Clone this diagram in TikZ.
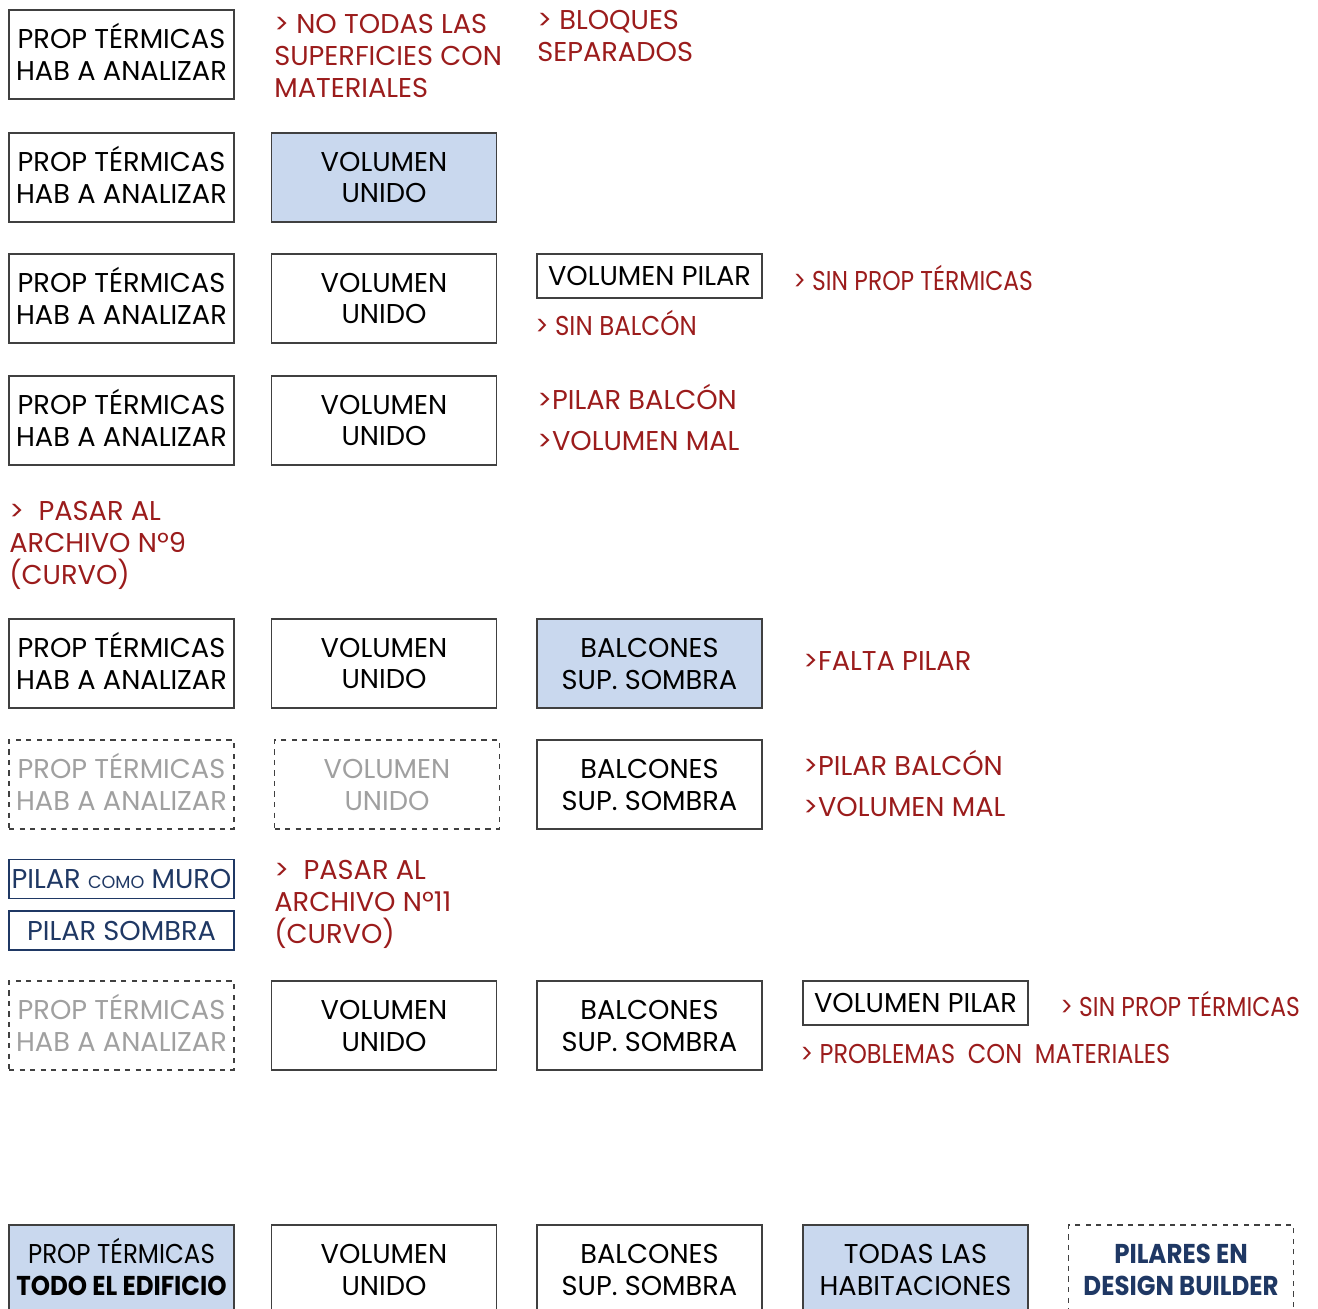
\documentclass[tikz,border=0pt]{standalone}
\usepackage{fontspec}
\setmainfont{Poppins}
\usetikzlibrary{positioning}
\definecolor{notered}{HTML}{9B1C1C}
\definecolor{boxline}{HTML}{404040}
\definecolor{boxfill}{HTML}{C9D8EE}
\definecolor{navy}{HTML}{1F3864}
\definecolor{faded}{HTML}{A0A0A0}
\newcommand{\narrow}[2][0.9]{\scalebox{#1}[1]{#2}}
\newcommand{\propt}{PROP T\smash{É}RMICAS}
\tikzset{
	box/.style={draw=boxline, line width=0.9pt, minimum width=4.5cm, minimum height=1.78cm, inner sep=0pt, align=center},
	bluebox/.style={box, fill=boxfill},
	ghostbox/.style={box, dashed, text=faded},
	thinbox/.style={box, minimum height=0.88cm},
	pilarbox/.style={box, draw=navy, text=navy, minimum height=0.78cm},
	note/.style={text=notered, anchor=west, inner sep=0pt, align=left}
}
\begin{document}
\begin{tikzpicture}[x=0.02cm, y=-0.02cm, font=\fontsize{15.5}{18.2}\selectfont]
	\useasboundingbox (0,0) rectangle (1318,1308);
	\clip (0,0) rectangle (1318,1308);
	\node[box] (propa) at (121.5,54.5) {\propt\\HAB A ANALIZAR};
	\node[note] (notaa) at (274,56) {> NO TODAS LAS\\SUPERFICIES CON\\MATERIALES};
	\node[note] (notab) at (537,36) {> BLOQUES\\SEPARADOS};
	\node[box] (propb) at (121.5,177.5) {\propt\\HAB A ANALIZAR};
	\node[bluebox] (volb) at (384,177.5) {VOLUMEN\\UNIDO};
	\node[box] (propc) at (121.5,298.5) {\propt\\HAB A ANALIZAR};
	\node[box] (volc) at (384,298.5) {VOLUMEN\\UNIDO};
	\node[thinbox] (pilarc) at (649.5,276) {VOLUMEN PILAR};
	\node[note] (notac) at (793,278) {\narrow[0.86]{> SIN PROP TÉRMICAS}};
	\node[note] (notad) at (535,323) {\narrow{> SIN BALCÓN}};
	\node[box] (propd) at (121.5,420.5) {\propt\\HAB A ANALIZAR};
	\node[box] (vold) at (384,420.5) {VOLUMEN\\UNIDO};
	\node[note] (notae) at (537,397) {>PILAR BALCÓN};
	\node[note] (notaf) at (537,441) {>VOLUMEN MAL};
	\node[note] (notag) at (9,545) {>\ \ PASAR AL\\ARCHIVO Nº9\\(CURVO)};
	\node[box] (prope) at (121.5,663.5) {\propt\\HAB A ANALIZAR};
	\node[box] (vole) at (384,663.5) {VOLUMEN\\UNIDO};
	\node[bluebox] (balce) at (649.5,663.5) {BALCONES\\SUP. SOMBRA};
	\node[note] (notah) at (803,661) {>FALTA PILAR};
	\node[ghostbox] (propf) at (121.5,784.5) {\propt\\HAB A ANALIZAR};
	\node[ghostbox] (volf) at (387,784.5) {VOLUMEN\\UNIDO};
	\node[box] (balcf) at (649.5,784.5) {BALCONES\\SUP. SOMBRA};
	\node[note] (notai) at (803,763) {>PILAR BALCÓN};
	\node[note] (notaj) at (803,807) {>VOLUMEN MAL};
	\node[pilarbox] (muro) at (121.5,879) {PILAR {\fontsize{10}{10}\selectfont COMO} MURO};
	\node[pilarbox] (sombra) at (121.5,930.5) {PILAR SOMBRA};
	\node[note] (notak) at (274,904) {>\ \ PASAR AL\\ARCHIVO Nº11\\(CURVO)};
	\node[ghostbox] (propg) at (121.5,1025.5) {\propt\\HAB A ANALIZAR};
	\node[box] (volg) at (384,1025.5) {VOLUMEN\\UNIDO};
	\node[box] (balcg) at (649.5,1025.5) {BALCONES\\SUP. SOMBRA};
	\node[thinbox] (pilarg) at (915.5,1003) {VOLUMEN PILAR};
	\node[note] (notal) at (1060,1004) {\narrow[0.86]{> SIN PROP TÉRMICAS}};
	\node[note] (notam) at (800,1054) {\narrow[0.88]{> PROBLEMAS\ \ CON\ \ MATERIALES}};
	\node[bluebox] (proph) at (121.5,1269.5) {\narrow{\propt}\\\narrow{\textbf{TODO EL EDIFICIO}}};
	\node[box] (volh) at (384,1269.5) {VOLUMEN\\UNIDO};
	\node[box] (balch) at (649.5,1269.5) {BALCONES\\SUP. SOMBRA};
	\node[bluebox] (habh) at (915.5,1269.5) {TODAS LAS\\HABITACIONES};
	\node[box, dashed, text=navy] (dbh) at (1181,1269.5) {\narrow{\textbf{PILARES EN}}\\\narrow{\textbf{DESIGN BUILDER}}};
\end{tikzpicture}
\end{document}
